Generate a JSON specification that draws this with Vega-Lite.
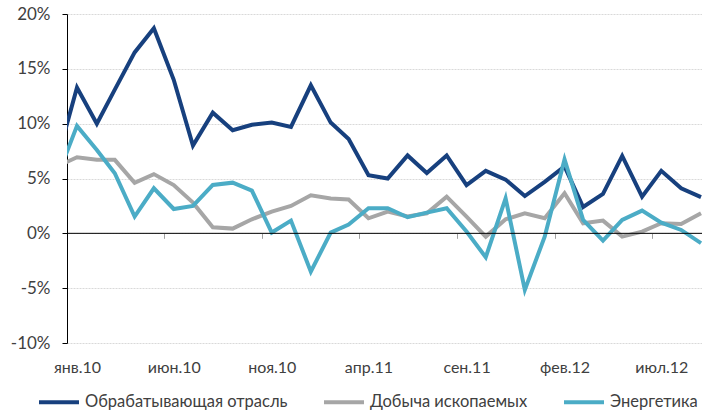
{
  "$schema": "https://vega.github.io/schema/vega-lite/v6.json",
  "width": 635,
  "height": 329,
  "autosize": {"type": "none"},
  "padding": {"left": 67, "top": 14, "right": 0, "bottom": 68},
  "config": {
    "view": {"stroke": null},
    "font": "Lato",
    "locale": {
      "time": {
        "dateTime": "%A, %e %B %Y г. %X",
        "date": "%d.%m.%Y",
        "time": "%H:%M:%S",
        "periods": ["AM", "PM"],
        "days": ["воскресенье", "понедельник", "вторник", "среда", "четверг", "пятница", "суббота"],
        "shortDays": ["вс", "пн", "вт", "ср", "чт", "пт", "сб"],
        "months": ["январь", "февраль", "март", "апрель", "май", "июнь", "июль", "август", "сентябрь", "октябрь", "ноябрь", "декабрь"],
        "shortMonths": ["янв", "фев", "мар", "апр", "май", "июн", "июл", "авг", "сен", "окт", "ноя", "дек"]
      }
    }
  },
  "datasets": {
    "rows": [
      {"date": "2009/12/01", "s": "Обрабатывающая отрасль", "v": 6.7},
      {"date": "2010/01/01", "s": "Обрабатывающая отрасль", "v": 13.3},
      {"date": "2010/02/01", "s": "Обрабатывающая отрасль", "v": 10.0},
      {"date": "2010/03/01", "s": "Обрабатывающая отрасль", "v": 13.1},
      {"date": "2010/04/01", "s": "Обрабатывающая отрасль", "v": 16.5},
      {"date": "2010/05/01", "s": "Обрабатывающая отрасль", "v": 18.7},
      {"date": "2010/06/01", "s": "Обрабатывающая отрасль", "v": 14.0},
      {"date": "2010/07/01", "s": "Обрабатывающая отрасль", "v": 8.0},
      {"date": "2010/08/01", "s": "Обрабатывающая отрасль", "v": 11.0},
      {"date": "2010/09/01", "s": "Обрабатывающая отрасль", "v": 9.4},
      {"date": "2010/10/01", "s": "Обрабатывающая отрасль", "v": 9.9},
      {"date": "2010/11/01", "s": "Обрабатывающая отрасль", "v": 10.1},
      {"date": "2010/12/01", "s": "Обрабатывающая отрасль", "v": 9.7},
      {"date": "2011/01/01", "s": "Обрабатывающая отрасль", "v": 13.5},
      {"date": "2011/02/01", "s": "Обрабатывающая отрасль", "v": 10.1},
      {"date": "2011/03/01", "s": "Обрабатывающая отрасль", "v": 8.6},
      {"date": "2011/04/01", "s": "Обрабатывающая отрасль", "v": 5.3},
      {"date": "2011/05/01", "s": "Обрабатывающая отрасль", "v": 5.0},
      {"date": "2011/06/01", "s": "Обрабатывающая отрасль", "v": 7.1},
      {"date": "2011/07/01", "s": "Обрабатывающая отрасль", "v": 5.5},
      {"date": "2011/08/01", "s": "Обрабатывающая отрасль", "v": 7.1},
      {"date": "2011/09/01", "s": "Обрабатывающая отрасль", "v": 4.4},
      {"date": "2011/10/01", "s": "Обрабатывающая отрасль", "v": 5.7},
      {"date": "2011/11/01", "s": "Обрабатывающая отрасль", "v": 4.9},
      {"date": "2011/12/01", "s": "Обрабатывающая отрасль", "v": 3.4},
      {"date": "2012/01/01", "s": "Обрабатывающая отрасль", "v": 4.7},
      {"date": "2012/02/01", "s": "Обрабатывающая отрасль", "v": 6.1},
      {"date": "2012/03/01", "s": "Обрабатывающая отрасль", "v": 2.4},
      {"date": "2012/04/01", "s": "Обрабатывающая отрасль", "v": 3.6},
      {"date": "2012/05/01", "s": "Обрабатывающая отрасль", "v": 7.06},
      {"date": "2012/06/01", "s": "Обрабатывающая отрасль", "v": 3.35},
      {"date": "2012/07/01", "s": "Обрабатывающая отрасль", "v": 5.7},
      {"date": "2012/08/01", "s": "Обрабатывающая отрасль", "v": 4.1},
      {"date": "2012/09/01", "s": "Обрабатывающая отрасль", "v": 3.3},

      {"date": "2009/12/01", "s": "Добыча ископаемых", "v": 6.1},
      {"date": "2010/01/01", "s": "Добыча ископаемых", "v": 6.94},
      {"date": "2010/02/01", "s": "Добыча ископаемых", "v": 6.7},
      {"date": "2010/03/01", "s": "Добыча ископаемых", "v": 6.7},
      {"date": "2010/04/01", "s": "Добыча ископаемых", "v": 4.6},
      {"date": "2010/05/01", "s": "Добыча ископаемых", "v": 5.4},
      {"date": "2010/06/01", "s": "Добыча ископаемых", "v": 4.4},
      {"date": "2010/07/01", "s": "Добыча ископаемых", "v": 2.8},
      {"date": "2010/08/01", "s": "Добыча ископаемых", "v": 0.55},
      {"date": "2010/09/01", "s": "Добыча ископаемых", "v": 0.43},
      {"date": "2010/10/01", "s": "Добыча ископаемых", "v": 1.28},
      {"date": "2010/11/01", "s": "Добыча ископаемых", "v": 1.98},
      {"date": "2010/12/01", "s": "Добыча ископаемых", "v": 2.5},
      {"date": "2011/01/01", "s": "Добыча ископаемых", "v": 3.47},
      {"date": "2011/02/01", "s": "Добыча ископаемых", "v": 3.17},
      {"date": "2011/03/01", "s": "Добыча ископаемых", "v": 3.08},
      {"date": "2011/04/01", "s": "Добыча ископаемых", "v": 1.37},
      {"date": "2011/05/01", "s": "Добыча ископаемых", "v": 1.98},
      {"date": "2011/06/01", "s": "Добыча ископаемых", "v": 1.53},
      {"date": "2011/07/01", "s": "Добыча ископаемых", "v": 1.83},
      {"date": "2011/08/01", "s": "Добыча ископаемых", "v": 3.35},
      {"date": "2011/09/01", "s": "Добыча ископаемых", "v": 1.53},
      {"date": "2011/10/01", "s": "Добыча ископаемых", "v": -0.3},
      {"date": "2011/11/01", "s": "Добыча ископаемых", "v": 1.28},
      {"date": "2011/12/01", "s": "Добыча ископаемых", "v": 1.83},
      {"date": "2012/01/01", "s": "Добыча ископаемых", "v": 1.37},
      {"date": "2012/02/01", "s": "Добыча ископаемых", "v": 3.65},
      {"date": "2012/03/01", "s": "Добыча ископаемых", "v": 0.92},
      {"date": "2012/04/01", "s": "Добыча ископаемых", "v": 1.16},
      {"date": "2012/05/01", "s": "Добыча ископаемых", "v": -0.3},
      {"date": "2012/06/01", "s": "Добыча ископаемых", "v": 0.16},
      {"date": "2012/07/01", "s": "Добыча ископаемых", "v": 0.92},
      {"date": "2012/08/01", "s": "Добыча ископаемых", "v": 0.86},
      {"date": "2012/09/01", "s": "Добыча ископаемых", "v": 1.83},

      {"date": "2009/12/01", "s": "Энергетика", "v": 5.1},
      {"date": "2010/01/01", "s": "Энергетика", "v": 9.8},
      {"date": "2010/02/01", "s": "Энергетика", "v": 7.6},
      {"date": "2010/03/01", "s": "Энергетика", "v": 5.48},
      {"date": "2010/04/01", "s": "Энергетика", "v": 1.53},
      {"date": "2010/05/01", "s": "Энергетика", "v": 4.11},
      {"date": "2010/06/01", "s": "Энергетика", "v": 2.22},
      {"date": "2010/07/01", "s": "Энергетика", "v": 2.5},
      {"date": "2010/08/01", "s": "Энергетика", "v": 4.41},
      {"date": "2010/09/01", "s": "Энергетика", "v": 4.62},
      {"date": "2010/10/01", "s": "Энергетика", "v": 3.9},
      {"date": "2010/11/01", "s": "Энергетика", "v": 0.07},
      {"date": "2010/12/01", "s": "Энергетика", "v": 1.16},
      {"date": "2011/01/01", "s": "Энергетика", "v": -3.49},
      {"date": "2011/02/01", "s": "Энергетика", "v": 0.07},
      {"date": "2011/03/01", "s": "Энергетика", "v": 0.8},
      {"date": "2011/04/01", "s": "Энергетика", "v": 2.29},
      {"date": "2011/05/01", "s": "Энергетика", "v": 2.29},
      {"date": "2011/06/01", "s": "Энергетика", "v": 1.47},
      {"date": "2011/07/01", "s": "Энергетика", "v": 1.89},
      {"date": "2011/08/01", "s": "Энергетика", "v": 2.29},
      {"date": "2011/09/01", "s": "Энергетика", "v": 0.16},
      {"date": "2011/10/01", "s": "Энергетика", "v": -2.18},
      {"date": "2011/11/01", "s": "Энергетика", "v": 3.2},
      {"date": "2011/12/01", "s": "Энергетика", "v": -5.16},
      {"date": "2012/01/01", "s": "Энергетика", "v": -0.3},
      {"date": "2012/02/01", "s": "Энергетика", "v": 6.75},
      {"date": "2012/03/01", "s": "Энергетика", "v": 1.22},
      {"date": "2012/04/01", "s": "Энергетика", "v": -0.66},
      {"date": "2012/05/01", "s": "Энергетика", "v": 1.22},
      {"date": "2012/06/01", "s": "Энергетика", "v": 2.07},
      {"date": "2012/07/01", "s": "Энергетика", "v": 0.98},
      {"date": "2012/08/01", "s": "Энергетика", "v": 0.31},
      {"date": "2012/09/01", "s": "Энергетика", "v": -0.9}
    ],
    "zero": [{"v": 0}]
  },
  "layer": [
    {
      "data": {"name": "rows"},
      "mark": {"type": "line", "strokeWidth": 4, "clip": true, "strokeJoin": "miter"},
      "encoding": {
        "x": {
          "field": "date",
          "type": "temporal",
          "scale": {"domain": [{"year": 2009, "month": 12, "date": 16, "hours": 10}, {"year": 2012, "month": 9, "date": 2, "hours": 13}]},
          "axis": {
            "title": null,
            "orient": "bottom",
            "offset": -109.67,
            "values": [
              {"year": 2010, "month": 6, "date": 1},
              {"year": 2010, "month": 11, "date": 1},
              {"year": 2011, "month": 4, "date": 1},
              {"year": 2011, "month": 9, "date": 1},
              {"year": 2012, "month": 2, "date": 1},
              {"year": 2012, "month": 7, "date": 1},
              {"year": 2010, "month": 1, "date": 1}
            ],
            "format": "%b.%y",
            "grid": false,
            "domain": false,
            "ticks": true,
            "tickSize": 5,
            "tickColor": "#a0a0a0",
            "tickWidth": 1,
            "tickOffset": -9.75,
            "labelOffset": 9.75,
            "labelPadding": 121,
            "labelFontSize": 16,
            "labelColor": "#404040",
            "labelBaseline": "top",
            "labelOverlap": false,
            "labelFlush": false
          }
        },
        "y": {
          "field": "v",
          "type": "quantitative",
          "scale": {"domain": [-10, 20], "nice": false},
          "axis": {
            "title": null,
            "values": [-10, -5, 0, 5, 10, 15, 20],
            "labelExpr": "datum.value + '%'",
            "domainColor": "#000000",
            "domainWidth": 1,
            "tickColor": "#000000",
            "tickSize": 5,
            "labelPadding": 12,
            "labelFontSize": 17,
            "labelColor": "#404040",
            "gridColor": "#d9d9d9",
            "gridDash": [2, 1],
            "gridWidth": 1
          }
        },
        "color": {
          "field": "s",
          "type": "nominal",
          "scale": {
            "domain": ["Обрабатывающая отрасль", "Добыча ископаемых", "Энергетика"],
            "range": ["#17407e", "#a6a6a6", "#4bacc6"]
          },
          "legend": {
            "title": null,
            "orient": "none",
            "direction": "horizontal",
            "legendX": -30,
            "legendY": 366,
            "symbolType": "stroke",
            "symbolSize": 1600,
            "symbolStrokeWidth": 4,
            "labelFontSize": 16.5,
            "labelColor": "#404040",
            "labelOffset": 4,
            "labelLimit": 400,
            "columnPadding": 28
          }
        }
      }
    },
    {
      "data": {"name": "zero"},
      "mark": {"type": "rule", "color": "#000000", "strokeWidth": 1},
      "encoding": {"y": {"field": "v", "type": "quantitative"}}
    }
  ]
}
